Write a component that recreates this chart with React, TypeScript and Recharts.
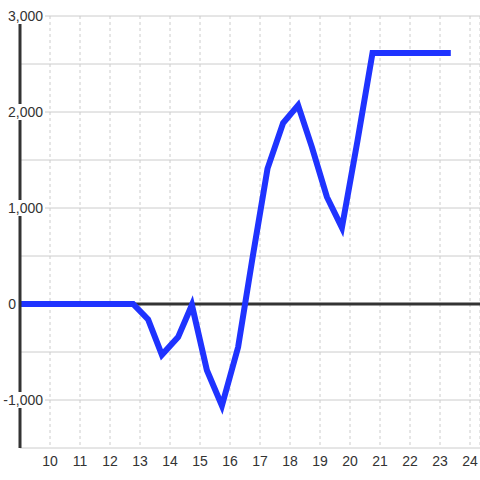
import React from 'react';
import {
  LineChart, Line, XAxis, YAxis, CartesianGrid, ReferenceLine
} from 'recharts';

// hours (x) and balance (y)
const hours = [
  9, 12.77, 13.27, 13.73, 14.27, 14.73, 15.23, 15.73, 16.27, 16.75,
  17.25, 17.77, 18.27, 18.73, 19.23, 19.73, 20.25, 20.75, 23.26,
];
const balance = [
  0, 0, -160, -530, -345, -10, -690, -1060, -450, 480,
  1410, 1885, 2070, 1635, 1115, 795, 1700, 2615, 2615,
];

const xTicks = [10, 11, 12, 13, 14, 15, 16, 17, 18, 19, 20, 21, 22, 23, 24];
const yTicks = [-1500, -1000, -500, 0, 500, 1000, 1500, 2000, 2500, 3000];
const yLabelled = [-1000, 0, 1000, 2000, 3000];

const FONT = '"Liberation Sans", Arial, sans-serif';

const chartData = hours.map((h, i) => ({ h, v: balance[i] }));

const YTick = (props: any) => {
  const { y, payload } = props;
  if (!yLabelled.includes(payload.value)) return null;
  const label = payload.value.toLocaleString('en-US');
  const isZero = payload.value === 0;
  return (
    <g>
      {!isZero && <rect x={4} y={y - 8} width={41} height={16} fill="#ffffff" />}
      <text
        x={isZero ? 16 : 43}
        y={y}
        dy="0.36em"
        textAnchor="end"
        fontSize={14}
        fontFamily={FONT}
        fill="#333"
      >
        {label}
      </text>
    </g>
  );
};

export default function App() {
  return (
    <div style={{ position: 'absolute', left: 0, top: 0, width: 480, height: 480, background: '#fff' }}>
      <LineChart
        width={480}
        height={480}
        data={chartData}
        margin={{ top: 16, right: 0, bottom: 0, left: 0 }}
      >
        <CartesianGrid horizontal={true} vertical={false} stroke="#cccccc" />
        <CartesianGrid horizontal={false} vertical={true} stroke="#cccccc" strokeDasharray="3 3" />
        <XAxis
          dataKey="h"
          type="number"
          domain={[9, 24.3333]}
          ticks={xTicks}
          allowDataOverflow
          axisLine={false}
          tickLine={false}
          height={32}
          tick={{ fontSize: 14, fontFamily: FONT, fill: '#333' }}
        />
        <ReferenceLine y={0} stroke="#333" strokeWidth={3} />
        <YAxis
          type="number"
          domain={[-1500, 3000]}
          ticks={yTicks}
          width={20}
          axisLine={{ stroke: '#333', strokeWidth: 3 }}
          tickLine={false}
          tick={<YTick />}
          interval={0}
        />
        <Line
          type="linear"
          dataKey="v"
          stroke="#1f33ff"
          strokeWidth={6}
          strokeLinecap="square"
          strokeLinejoin="miter"
          dot={false}
          isAnimationActive={false}
        />
      </LineChart>
    </div>
  );
}
